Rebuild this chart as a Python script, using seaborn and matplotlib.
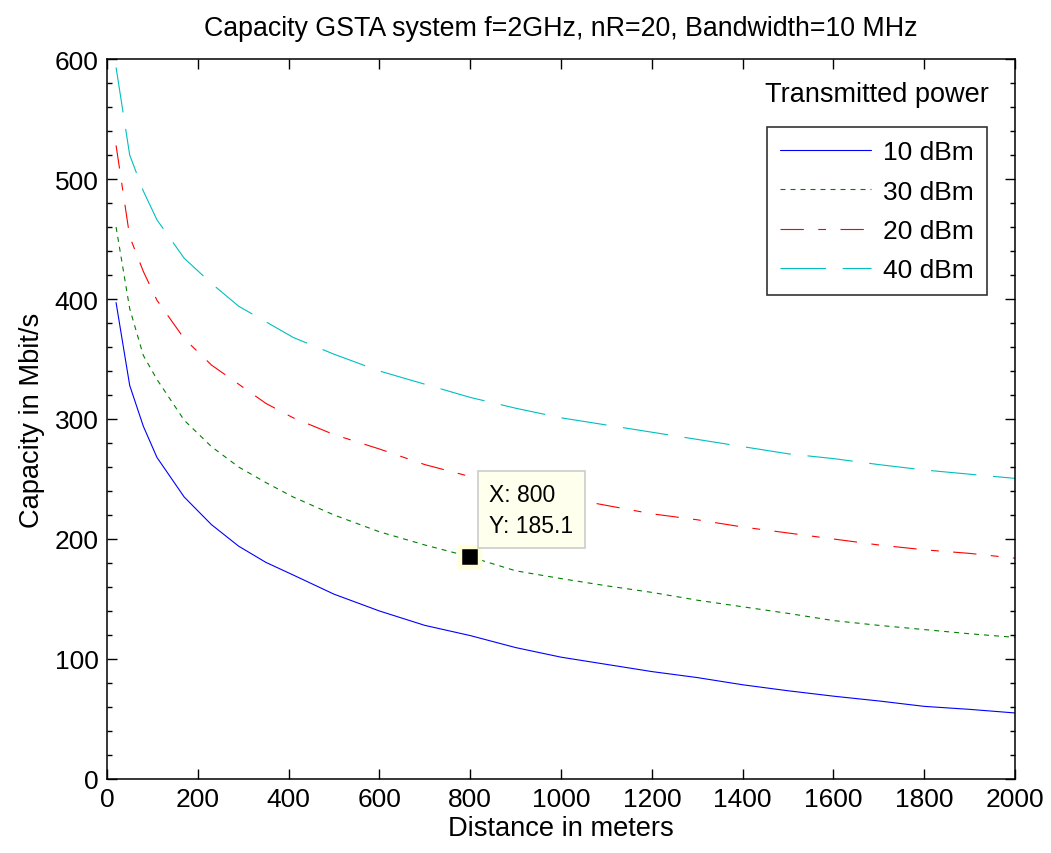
import seaborn as sns
import matplotlib.pyplot as plt
import pandas as pd

# Distance samples (m) and capacity readings (Mbit/s) per transmit power
distance = [20, 50, 80, 110, 170, 230, 290, 350, 410, 500, 600, 700, 800,
            900, 1000, 1100, 1200, 1300, 1400, 1500, 1600, 1700, 1800, 1900, 2000]
cap_10dbm = [397, 328, 294, 268, 235, 212, 194, 180.5, 170, 154, 140, 128, 119.5,
             109.5, 101.5, 95.5, 89.5, 84.5, 78.5, 73.5, 69, 65, 60.5, 58, 55]
cap_30dbm = [460, 392, 353, 333, 299, 277, 260, 247, 235, 220, 206, 195, 185.1,
             173.5, 167, 161, 155.5, 149, 143.5, 138, 132, 128, 124.5, 121, 118]
cap_20dbm = [528, 452, 423, 399, 367, 345, 329, 313, 301, 287, 275, 262, 252,
             242, 235, 228, 221, 216, 210, 205, 200, 195, 191, 188, 184]
cap_40dbm = [593, 520, 490, 466, 434, 413, 394, 381, 368, 354, 340, 329, 318,
             309, 301, 295, 289, 283, 277, 271, 267, 262, 257.5, 254, 250.5]

labels = ["10 dBm", "30 dBm", "20 dBm", "40 dBm"]
series = [cap_10dbm, cap_30dbm, cap_20dbm, cap_40dbm]
colors = ["#0000ff", "#008000", "#ff0000", "#00bfbf"]
styles = ["-", (0, (4.5, 4.5)), (0, (21, 13, 7, 13)), (0, (41, 15))]

tip_x = 800


def build_frame():
    """Long-form table of all curves."""
    rows = []
    for lab, vals in zip(labels, series):
        for d, c in zip(distance, vals):
            rows.append({"distance": d, "capacity": c, "power": lab})
    return pd.DataFrame(rows)


def main():
    sns.set_theme(style="ticks")
    plt.rcParams["font.family"] = ["Liberation Sans", "DejaVu Sans"]
    plt.rcParams["text.color"] = "black"
    plt.rcParams["axes.labelcolor"] = "black"

    df = build_frame()
    fig = plt.figure(figsize=(10.51, 8.54), dpi=100)
    ax = fig.add_axes([0.1018, 0.0867, 0.864, 0.843])

    for lab, col, ls in zip(labels, colors, styles):
        sub = df[df["power"] == lab]
        sns.lineplot(data=sub, x="distance", y="capacity", ax=ax, color=col,
                     linestyle=ls, linewidth=0.8, label=lab)

    ax.set_xlim(0, 2000)
    ax.set_ylim(0, 600)
    ax.set_xticks(range(0, 2001, 200))
    ax.set_yticks(range(0, 601, 100))
    ax.set_yticks(range(0, 601, 20), minor=True)
    ax.tick_params(which="both", direction="in", top=True, right=True,
                   labelsize=19, colors="black", labelcolor="black", width=1)
    ax.tick_params(which="major", length=7, pad=6)
    ax.tick_params(which="minor", length=3.5)
    for sp in ax.spines.values():
        sp.set_color("black")
        sp.set_linewidth(1.1)

    ax.set_xlabel("Distance in meters", fontsize=19.6, labelpad=3)
    ax.set_ylabel("Capacity in Mbit/s", fontsize=19.6, labelpad=7)
    ax.set_title("Capacity GSTA system f=2GHz, nR=20, Bandwidth=10 MHz",
                 fontsize=19.3, pad=17, color="black")

    leg = ax.legend(loc="upper right", bbox_to_anchor=(0.9692, 0.9055),
                    fontsize=19, frameon=True, fancybox=False,
                    handlelength=3.45, handletextpad=0.45, borderpad=0.5,
                    labelspacing=0.58, borderaxespad=0)
    leg.get_frame().set_edgecolor("black")
    leg.get_frame().set_linewidth(1.2)
    for t in leg.get_texts():
        t.set_color("black")
    ax.text(0.848, 0.951, "Transmitted power", transform=ax.transAxes,
            ha="center", va="center", fontsize=19.5)

    # data tip on the 30 dBm curve
    tip_y = cap_30dbm[distance.index(tip_x)]
    ax.plot([tip_x], [tip_y], marker="s", markersize=14, color="black",
            markeredgecolor="#ffffdc", markeredgewidth=3.2, zorder=5)
    ax.annotate(f"X: {tip_x}\nY: {tip_y}", xy=(tip_x, tip_y),
                xytext=(19, 20), textcoords="offset pixels",
                ha="left", va="bottom", fontsize=16.5, linespacing=1.45,
                bbox=dict(boxstyle="square,pad=0.5", fc="#ffffee",
                          ec="#cccccc", lw=1.2), zorder=6)

    fig.savefig("out.png", dpi=100, facecolor="white")
    plt.close(fig)


if __name__ == "__main__":
    main()
